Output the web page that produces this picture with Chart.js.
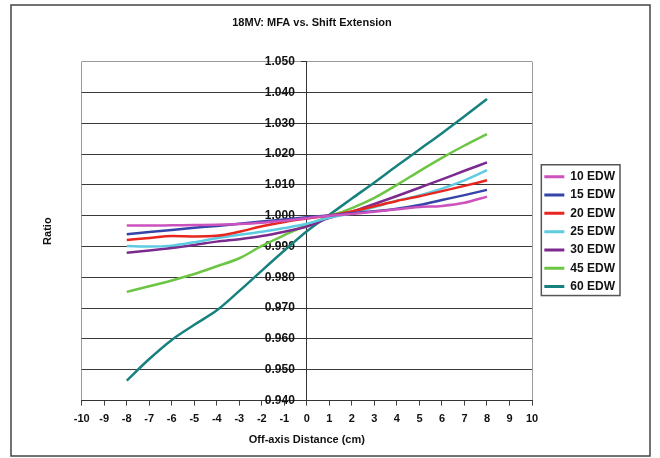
<!DOCTYPE html>
<html>
<head>
<meta charset="utf-8">
<title>18MV: MFA vs. Shift Extension</title>
<script src="https://cdn.jsdelivr.net/npm/chart.js@4/dist/chart.umd.min.js"></script>
<style>
    body { margin: 0; background: #fff; }
    canvas { display: block; }
</style>
</head>
<body>
<canvas id="mfaChart" width="660" height="458"></canvas>
<script>
// Off-axis distances (cm)
const distances = [-8, -7, -6, -5, -4, -3, -2, -1, 0, 1, 2, 3, 4, 5, 6, 7, 8];

// Ratio per wedge angle
const edw10 = [0.9968, 0.9968, 0.9969, 0.9970, 0.9971, 0.9973, 0.9977, 0.9984, 0.9992, 1.0000, 1.0006, 1.0013, 1.0021, 1.0028, 1.0032, 1.0042, 1.0062];
const edw15 = [0.9940, 0.9947, 0.9954, 0.9961, 0.9967, 0.9974, 0.9981, 0.9988, 0.9995, 1.0001, 1.0008, 1.0015, 1.0023, 1.0035, 1.0051, 1.0067, 1.0084];
const edw20 = [0.9921, 0.9928, 0.9934, 0.9933, 0.9935, 0.9948, 0.9966, 0.9980, 0.9991, 1.0001, 1.0014, 1.0031, 1.0048, 1.0063, 1.0080, 1.0097, 1.0115];
const edw25 = [0.9902, 0.9900, 0.9903, 0.9914, 0.9927, 0.9938, 0.9948, 0.9960, 0.9974, 0.9994, 1.0008, 1.0028, 1.0049, 1.0066, 1.0088, 1.0115, 1.0148];
const edw30 = [0.9880, 0.9887, 0.9895, 0.9905, 0.9916, 0.9924, 0.9934, 0.9948, 0.9965, 0.9993, 1.0013, 1.0038, 1.0064, 1.0091, 1.0118, 1.0146, 1.0173];
const edw45 = [0.9753, 0.9771, 0.9790, 0.9811, 0.9836, 0.9862, 0.9902, 0.9937, 0.9970, 0.9998, 1.0025, 1.0058, 1.0100, 1.0145, 1.0188, 1.0228, 1.0265];
const edw60 = [0.9465, 0.9535, 0.9597, 0.9646, 0.9693, 0.9756, 0.9822, 0.9887, 0.9950, 1.0003, 1.0056, 1.0108, 1.0162, 1.0215, 1.0268, 1.0323, 1.0379];

const seriesNames = ['10 EDW', '15 EDW', '20 EDW', '25 EDW', '30 EDW', '45 EDW', '60 EDW'];
const seriesColors = ['#cc52be', '#3444a8', '#e8261e', '#5ecbe2', '#7b2a8e', '#6cc644', '#17817f'];
const seriesValues = [edw10, edw15, edw20, edw25, edw30, edw45, edw60];

const FONT = "'Liberation Sans', Arial, sans-serif";

// Outer frame, legend box, and a small nudge of the legend
const framePlugin = {
    id: 'frame',
    beforeDraw(chart) {
        const ctx = chart.ctx;
        ctx.save();
        ctx.fillStyle = '#ffffff';
        ctx.fillRect(0, 0, chart.width, chart.height);
        ctx.strokeStyle = '#444';
        ctx.lineWidth = 1.5;
        ctx.strokeRect(11, 5, 639, 451);
        ctx.restore();
    },
    afterLayout(chart) {
        const lg = chart.legend;
        lg.left += 6;
        lg.right += 6;
        lg.top += 0.5;
        lg.bottom += 0.5;
    },
    afterDraw(chart) {
        const lg = chart.legend;
        const pad = lg.options.labels.padding;
        const col = lg.columnSizes[0];
        const y0 = (lg.top + pad + lg.bottom - col.height) / 2;
        const x0 = lg.left + pad - 3;
        const ctx = chart.ctx;
        ctx.save();
        ctx.strokeStyle = '#555';
        ctx.lineWidth = 1.5;
        ctx.strokeRect(x0, y0 - 6, col.width + 8, col.height - pad + 9);
        ctx.restore();
    }
};

const datasets = seriesNames.map((name, i) => ({
    label: name,
    data: distances.map((d, j) => ({ x: d, y: seriesValues[i][j] })),
    borderColor: seriesColors[i],
    backgroundColor: seriesColors[i],
    borderWidth: 2.5,
    pointRadius: 0,
    cubicInterpolationMode: 'monotone',
    fill: false
}));

new Chart(document.getElementById('mfaChart'), {
    type: 'line',
    data: { datasets: datasets },
    options: {
        responsive: false,
        animation: false,
        devicePixelRatio: 1,
        layout: { padding: { left: 5, right: 41, top: 5, bottom: 5 } },
        plugins: {
            title: {
                display: true,
                text: '18MV: MFA vs. Shift Extension',
                color: '#111',
                font: { family: FONT, size: 11, weight: 'bold' },
                padding: { top: 11.4, bottom: 32.1 }
            },
            legend: {
                position: 'right',
                fullSize: false,
                labels: {
                    boxWidth: 20,
                    boxHeight: 3,
                    padding: 6.3,
                    color: '#111',
                    font: { family: FONT, size: 12, weight: 'bold' },
                    generateLabels(chart) {
                        const items = Chart.defaults.plugins.legend.labels.generateLabels(chart);
                        items.forEach(it => { it.fillStyle = it.strokeStyle; it.lineWidth = 0; });
                        return items;
                    }
                }
            },
            tooltip: { enabled: false }
        },
        scales: {
            x: {
                type: 'linear',
                position: 'bottom',
                min: -10,
                max: 10,
                ticks: {
                    stepSize: 1,
                    autoSkip: false,
                    maxRotation: 0,
                    padding: 6.4,
                    color: '#111',
                    font: { family: FONT, size: 11, weight: 'bold' }
                },
                grid: {
                    color: ctx => (ctx.tick && Math.abs(ctx.tick.value) === 10) ? '#9a9a9a' : 'rgba(0,0,0,0)',
                    tickColor: '#444',
                    tickLength: 5,
                    lineWidth: 1
                },
                border: { display: true, color: '#333', width: 1 },
                title: {
                    display: true,
                    text: 'Off-axis Distance (cm)',
                    color: '#111',
                    font: { family: FONT, size: 11, weight: 'bold' },
                    padding: { top: 1.8, bottom: 6.4 }
                }
            },
            y: {
                type: 'linear',
                position: { x: 0 },
                min: 0.94,
                max: 1.05,
                ticks: {
                    stepSize: 0.01,
                    color: '#111',
                    font: { family: FONT, size: 12, weight: 'bold' },
                    // labels sit right against the crossing axis, so pad with two en spaces
                    callback: v => v.toFixed(3) + '\u2002\u2002'
                },
                grid: {
                    color: ctx => (ctx.tick && ctx.tick.value > 1.049) ? '#9a9a9a' : '#3a3a3a',
                    tickColor: '#333',
                    tickLength: 5,
                    lineWidth: 1
                },
                border: { display: true, color: '#333', width: 1 }
            },
            yTitle: {
                type: 'linear',
                position: 'left',
                display: true,
                ticks: { display: false },
                grid: { display: false, drawTicks: false },
                border: { display: false },
                title: {
                    display: true,
                    text: 'Ratio',
                    color: '#111',
                    font: { family: FONT, size: 11, weight: 'bold' },
                    padding: { top: 36.4, bottom: 27.1 }
                }
            }
        }
    },
    plugins: [framePlugin]
});
</script>
</body>
</html>
